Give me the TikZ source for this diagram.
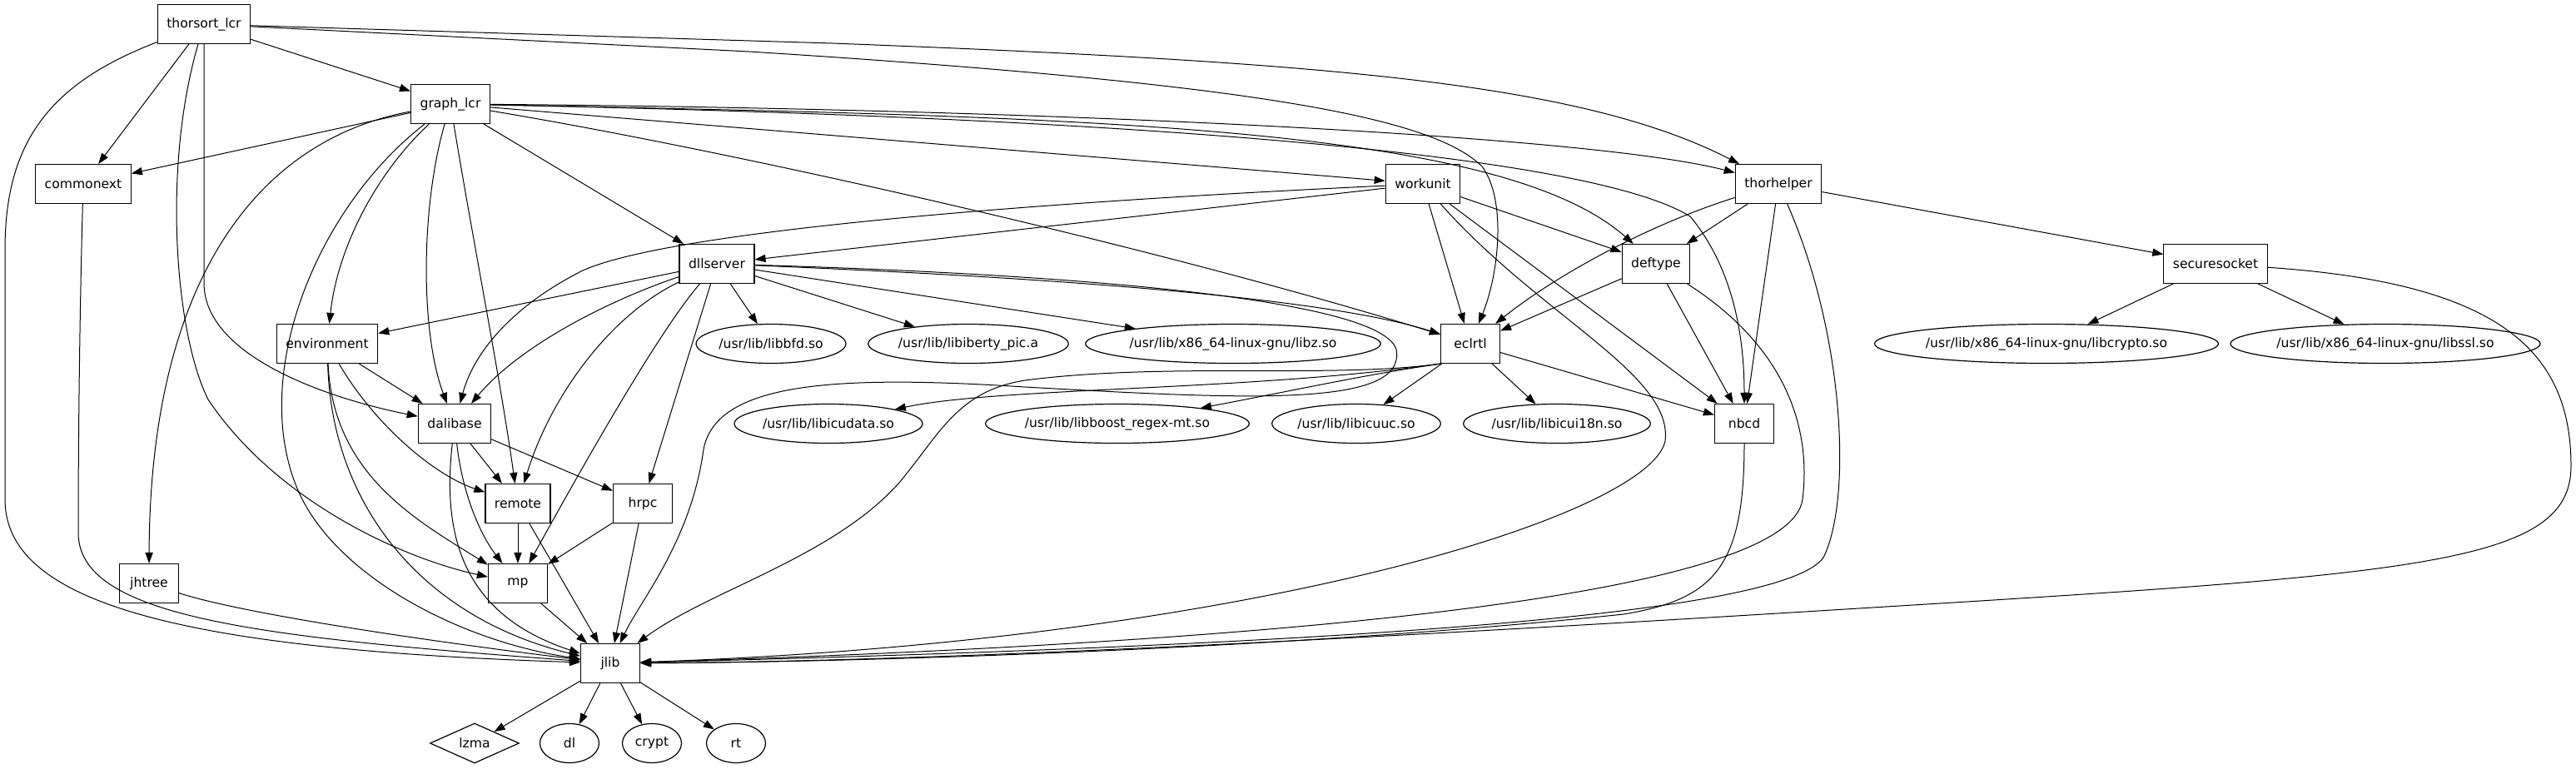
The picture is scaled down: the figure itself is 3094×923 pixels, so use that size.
\documentclass[tikz,border=0pt]{standalone}
\usepackage{fontspec}
\setmainfont{DejaVu Sans}
\usetikzlibrary{arrows.meta, shapes.geometric}

\begin{document}
\begin{tikzpicture}[
    x=0.5pt, y=-0.5pt,
    every node/.style={draw, line width=0.6pt, font=\fontsize{7.8}{9}\selectfont,
      minimum height=23.5pt, inner ysep=0pt},
    mod/.style={rectangle, minimum width=35.5pt, inner xsep=5.5pt},
    lib/.style={ellipse, minimum width=35.5pt, inner xsep=0.5pt},
    dep/.style={line width=0.5pt, -{Triangle[length=6.5pt, width=4.6pt]}}
  ]
  \useasboundingbox (0,0) rectangle (3094,923);

  \node[mod] (thorsort) at (245,29) {thorsort\_lcr};
  \node[mod] (graphlcr) at (541,125) {graph\_lcr};
  \node[mod] (commonext) at (100,221) {commonext};
  \node[mod] (workunit) at (1709,221) {workunit};
  \node[mod] (thorhelper) at (2136,221) {thorhelper};
  \node[mod] (dllserver) at (861,317) {dllserver};
  \node[mod] (deftype) at (1989,317) {deftype};
  \node[mod] (securesocket) at (2661,317) {securesocket};
  \node[mod] (environment) at (393,413) {environment};
  \node[lib] (libbfd) at (926,413) {/usr/lib/libbfd.so};
  \node[lib] (libiberty) at (1163,413) {/usr/lib/libiberty\_pic.a};
  \node[lib] (libz) at (1481,413) {/usr/lib/x86\_64-linux-gnu/libz.so};
  \node[mod] (eclrtl) at (1766,413) {eclrtl};
  \node[lib] (libcrypto) at (2458,413) {/usr/lib/x86\_64-linux-gnu/libcrypto.so};
  \node[lib] (libssl) at (2865,413) {/usr/lib/x86\_64-linux-gnu/libssl.so};
  \node[mod] (dalibase) at (546,509) {dalibase};
  \node[lib] (libicudata) at (995,509) {/usr/lib/libicudata.so};
  \node[lib] (libboost) at (1342,509) {/usr/lib/libboost\_regex-mt.so};
  \node[lib] (libicuuc) at (1629,509) {/usr/lib/libicuuc.so};
  \node[lib] (libicui) at (1870,509) {/usr/lib/libicui18n.so};
  \node[mod] (nbcd) at (2095,509) {nbcd};
  \node[mod] (remote) at (622,605) {remote};
  \node[mod] (hrpc) at (772,605) {hrpc};
  \node[mod] (jhtree) at (179,701) {jhtree};
  \node[mod] (mp) at (622,701) {mp};
  \node[mod] (jlib) at (733,797) {jlib};
  \node[diamond, aspect=2.2, minimum width=53.5pt, minimum height=24pt, inner sep=0pt] (lzma) at (570,893) {lzma};
  \node[lib] (dl) at (684,893) {dl};
  \node[lib] (crypt) at (783,893) {crypt};
  \node[lib] (rt) at (884,893) {rt};

  \draw[dep] (thorsort) -- (graphlcr);
  \draw[dep] (thorsort) -- (commonext);
  \draw[dep] (thorsort) .. controls (60,100) and (6,170) .. (6,300) -- (6,600) .. controls (6,720) and (200,780) .. (jlib);
  \draw[dep] (thorsort) .. controls (195,200) and (210,400) .. (250,480) .. controls (330,600) and (480,670) .. (mp);
  \draw[dep] (thorsort) -- (245,340) .. controls (245,430) and (400,480) .. (dalibase);
  \draw[dep] (thorsort) -- (900,62) .. controls (1500,100) and (1720,140) .. (1780,200) .. controls (1810,240) and (1800,330) .. (eclrtl);
  \draw[dep] (thorsort) -- (1000,52) .. controls (1600,75) and (1900,100) .. (thorhelper);

  \draw[dep] (graphlcr) -- (commonext);
  \draw[dep] (graphlcr) .. controls (300,170) and (180,350) .. (jhtree);
  \draw[dep] (graphlcr) .. controls (450,210) and (405,300) .. (environment);
  \draw[dep] (graphlcr) .. controls (380,250) and (300,450) .. (357,587) .. controls (400,690) and (550,770) .. (jlib);
  \draw[dep] (graphlcr) .. controls (505,250) and (505,400) .. (dalibase);
  \draw[dep] (graphlcr) .. controls (570,300) and (600,450) .. (remote);
  \draw[dep] (graphlcr) -- (dllserver);
  \draw[dep] (graphlcr) .. controls (900,185) and (1400,300) .. (eclrtl);
  \draw[dep] (graphlcr) -- (workunit);
  \draw[dep] (graphlcr) .. controls (1200,130) and (1900,160) .. (thorhelper);
  \draw[dep] (graphlcr) .. controls (1300,140) and (1800,150) .. (deftype);
  \draw[dep] (graphlcr) .. controls (1300,140) and (1900,180) .. (2030,260) .. controls (2080,320) and (2095,400) .. (nbcd);

  \draw[dep] (workunit) -- (dllserver);
  \draw[dep] (workunit) .. controls (1200,245) and (800,280) .. (700,325) .. controls (620,365) and (570,420) .. (dalibase);
  \draw[dep] (workunit) -- (deftype);
  \draw[dep] (workunit) -- (eclrtl);
  \draw[dep] (workunit) -- (nbcd);
  \draw[dep] (workunit) .. controls (1850,380) and (2010,450) .. (2000,530) .. controls (1980,620) and (1500,770) .. (jlib);

  \draw[dep] (dllserver) -- (environment);
  \draw[dep] (dllserver) .. controls (720,365) and (620,420) .. (dalibase);
  \draw[dep] (dllserver) .. controls (730,380) and (660,480) .. (remote);
  \draw[dep] (dllserver) .. controls (790,400) and (700,560) .. (mp);
  \draw[dep] (dllserver) -- (hrpc);
  \draw[dep] (dllserver) -- (libbfd);
  \draw[dep] (dllserver) -- (libiberty);
  \draw[dep] (dllserver) -- (libz);
  \draw[dep] (dllserver) .. controls (1300,335) and (1600,360) .. (eclrtl);
  \draw[dep] (dllserver) .. controls (1300,330) and (1660,360) .. (1677,420) .. controls (1690,490) and (1500,480) .. (1231,465)
    .. controls (1000,450) and (860,460) .. (845,540) .. controls (830,650) and (770,720) .. (jlib);

  \draw[dep] (eclrtl.south west) .. controls (1500,470) and (1200,465) .. (libicudata);
  \draw[dep] (eclrtl.south west) .. controls (1640,450) and (1550,470) .. (libboost);
  \draw[dep] (eclrtl) -- (libicuuc);
  \draw[dep] (eclrtl) -- (libicui);
  \draw[dep] (eclrtl) -- (nbcd);
  \draw[dep] (eclrtl.south west) .. controls (1600,455) and (1400,435) .. (1231,457) .. controls (1150,470) and (1130,520) .. (1080,580)
    .. controls (1000,670) and (850,710) .. (jlib);

  \draw[dep] (thorhelper) -- (deftype);
  \draw[dep] (thorhelper) .. controls (1980,270) and (1870,330) .. (eclrtl);
  \draw[dep] (thorhelper) -- (nbcd);
  \draw[dep] (thorhelper) .. controls (2215,400) and (2225,600) .. (2190,670) .. controls (2140,740) and (1600,775) .. (jlib);
  \draw[dep] (thorhelper) -- (securesocket);

  \draw[dep] (deftype) -- (eclrtl);
  \draw[dep] (deftype) -- (nbcd);
  \draw[dep] (deftype) .. controls (2150,420) and (2175,520) .. (2165,600) .. controls (2150,710) and (1600,770) .. (jlib);

  \draw[dep] (nbcd) .. controls (2095,680) and (2060,720) .. (1950,738) .. controls (1600,775) and (1100,795) .. (jlib);

  \draw[dep] (securesocket) -- (libcrypto);
  \draw[dep] (securesocket) -- (libssl);
  \draw[dep] (securesocket) .. controls (3000,340) and (3088,420) .. (3088,560) .. controls (3088,680) and (2900,690) .. (2200,733)
    .. controls (1600,770) and (1100,795) .. (jlib);

  \draw[dep] (environment) -- (dalibase);
  \draw[dep] (environment) .. controls (450,510) and (520,570) .. (remote);
  \draw[dep] (environment) .. controls (400,570) and (500,625) .. (mp);
  \draw[dep] (environment) .. controls (398,600) and (500,740) .. (jlib);

  \draw[dep] (dalibase) -- (remote);
  \draw[dep] (dalibase) -- (hrpc);
  \draw[dep] (dalibase) .. controls (555,590) and (575,640) .. (mp);
  \draw[dep] (dalibase) .. controls (530,650) and (560,740) .. (jlib);

  \draw[dep] (remote) -- (mp);
  \draw[dep] (remote) -- (jlib);
  \draw[dep] (hrpc) -- (mp);
  \draw[dep] (hrpc) -- (jlib);
  \draw[dep] (mp) -- (jlib);
  \draw[dep] (jhtree) .. controls (300,740) and (550,775) .. (jlib);
  \draw[dep] (commonext) .. controls (95,400) and (94,560) .. (94,640) .. controls (94,740) and (300,765) .. (jlib);

  \draw[dep] (jlib) -- (lzma);
  \draw[dep] (jlib) -- (dl);
  \draw[dep] (jlib) -- (crypt);
  \draw[dep] (jlib) -- (rt);
\end{tikzpicture}
\end{document}
